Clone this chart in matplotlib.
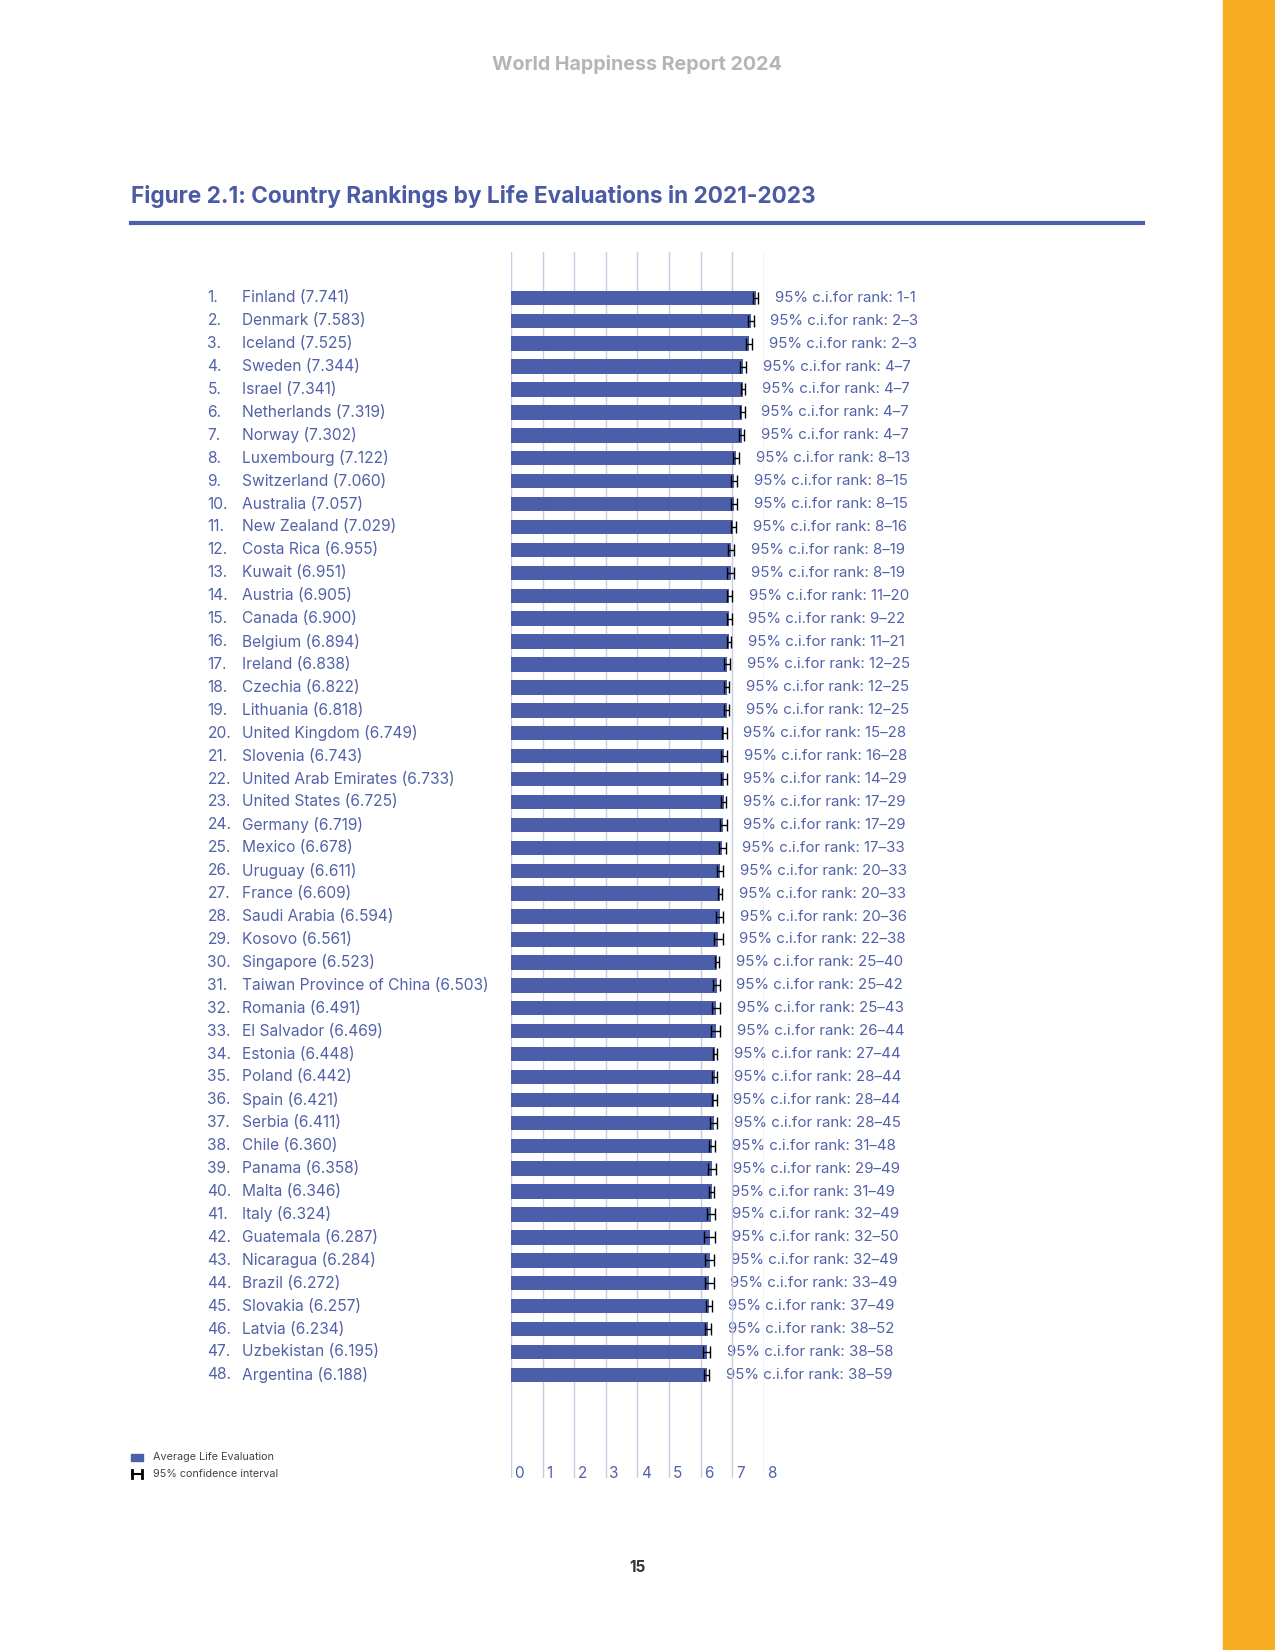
import numpy as np
import matplotlib.pyplot as plt

plt.rcParams['font.family'] = ['Inter', 'DejaVu Sans']

countries = ["Finland", "Denmark", "Iceland", "Sweden", "Israel", "Netherlands", "Norway",
             "Luxembourg", "Switzerland", "Australia", "New Zealand", "Costa Rica", "Kuwait",
             "Austria", "Canada", "Belgium", "Ireland", "Czechia", "Lithuania", "United Kingdom",
             "Slovenia", "United Arab Emirates", "United States", "Germany", "Mexico", "Uruguay",
             "France", "Saudi Arabia", "Kosovo", "Singapore", "Taiwan Province of China",
             "Romania", "El Salvador", "Estonia", "Poland", "Spain", "Serbia", "Chile", "Panama",
             "Malta", "Italy", "Guatemala", "Nicaragua", "Brazil", "Slovakia", "Latvia",
             "Uzbekistan", "Argentina"]
scores = [7.741, 7.583, 7.525, 7.344, 7.341, 7.319, 7.302, 7.122, 7.060, 7.057, 7.029, 6.955,
          6.951, 6.905, 6.900, 6.894, 6.838, 6.822, 6.818, 6.749, 6.743, 6.733, 6.725, 6.719,
          6.678, 6.611, 6.609, 6.594, 6.561, 6.523, 6.503, 6.491, 6.469, 6.448, 6.442, 6.421,
          6.411, 6.360, 6.358, 6.346, 6.324, 6.287, 6.284, 6.272, 6.257, 6.234, 6.195, 6.188]
# half width of the 95% confidence interval
ci_half = [0.075, 0.095, 0.095, 0.095, 0.055, 0.07, 0.08, 0.09, 0.09, 0.09, 0.085, 0.10,
           0.11, 0.08, 0.08, 0.06, 0.095, 0.075, 0.075, 0.07, 0.10, 0.09, 0.085, 0.10,
           0.11, 0.10, 0.06, 0.11, 0.13, 0.065, 0.10, 0.12, 0.14, 0.075, 0.08, 0.08,
           0.11, 0.095, 0.12, 0.075, 0.13, 0.17, 0.15, 0.14, 0.085, 0.085, 0.11, 0.08]
rank_lo = [1, 2, 2, 4, 4, 4, 4, 8, 8, 8, 8, 8, 8, 11, 9, 11, 12, 12, 12, 15, 16, 14, 17, 17,
           17, 20, 20, 20, 22, 25, 25, 25, 26, 27, 28, 28, 28, 31, 29, 31, 32, 32, 32, 33, 37,
           38, 38, 38]
rank_hi = [1, 3, 3, 7, 7, 7, 7, 13, 15, 15, 16, 19, 19, 20, 22, 21, 25, 25, 25, 28, 28, 29,
           29, 29, 33, 33, 33, 36, 38, 40, 42, 43, 44, 44, 44, 44, 45, 48, 49, 49, 49, 50, 49,
           49, 49, 52, 58, 59]
x_ticks = [0, 1, 2, 3, 4, 5, 6, 7, 8]

BLUE = '#4b5ea9'
TXT = '#5262a8'
GRID = '#c9cbe0'

fig = plt.figure(figsize=(12.75, 16.5), dpi=100)

# orange side band
fig.patches.append(plt.Rectangle((1223/1275, 0), 52/1275, 1, transform=fig.transFigure,
                                 color='#f6ad22', zorder=0))

fig.text(637/1275, 1 - 64/1650, "World Happiness Report 2024", ha='center', va='center',
         fontsize=14.2, fontweight='bold', color='#b5b5b5')
fig.text(131/1275, 1 - 197/1650, "Figure 2.1: Country Rankings by Life Evaluations in 2021-2023",
         ha='left', va='center', fontsize=16.3, fontweight='bold', color='#4a5aa5')
fig.add_artist(plt.Line2D([131/1275, 1143/1275], [1 - 223/1650, 1 - 223/1650],
                          transform=fig.transFigure, color=BLUE, lw=3))
fig.text(637/1275, 1 - 1568/1650, "15", ha='center', va='center', fontsize=11,
         fontweight='bold', color='#333333')

ax = fig.add_axes([511/1275, 1 - 1478/1650, 253/1275, 1226/1650])
ypos = np.arange(len(countries))

for t in x_ticks:
    ax.axvline(t, color=GRID, lw=1, zorder=2)
ax.barh(ypos, scores, height=0.63, color=BLUE, zorder=3)
ax.errorbar(scores, ypos, xerr=ci_half, fmt='none', ecolor='black', elinewidth=1,
            capsize=4.5, capthick=1, zorder=4)

ax.set_xlim(0, 8)
ax.set_ylim(51.5, -2.0)
ax.axis('off')

for i in range(len(countries)):
    ax.text(-9.6, ypos[i], f"{i + 1}.", ha='left', va='center', fontsize=11.2, color=TXT,
            clip_on=False)
    ax.text(-8.5, ypos[i], f"{countries[i]} ({scores[i]:.3f})", ha='left', va='center',
            fontsize=11.2, color=TXT, clip_on=False)
    dash = '-' if rank_lo[i] == rank_hi[i] else '\u2013'
    ax.annotate(f"95% c.i.for rank: {rank_lo[i]}{dash}{rank_hi[i]}",
                xy=(scores[i] + ci_half[i], ypos[i]), xytext=(12, 0),
                textcoords='offset points', ha='left', va='center', fontsize=10.8,
                color=TXT, zorder=1, annotation_clip=False)

for t in x_ticks:
    ax.annotate(str(t), xy=(t, 51.5), xytext=(2.5, -2), textcoords='offset points',
                ha='left', va='bottom', fontsize=11, color=TXT, annotation_clip=False)

# legend
fig.patches.append(plt.Rectangle((131/1275, 1 - 1461/1650), 12/1275, 7/1650,
                                 transform=fig.transFigure, color=BLUE))
fig.text(153/1275, 1 - 1457/1650, "Average Life Evaluation", ha='left', va='center',
         fontsize=7.8, color='#444444')
fig.add_artist(plt.Line2D([132/1275, 142/1275], [1 - 1474/1650] * 2,
                          transform=fig.transFigure, color='black', lw=1.5))
for xx in (132, 142):
    fig.add_artist(plt.Line2D([xx/1275] * 2, [1 - 1470/1650, 1 - 1478/1650],
                              transform=fig.transFigure, color='black', lw=2))
fig.text(153/1275, 1 - 1474/1650, "95% confidence interval", ha='left', va='center',
         fontsize=7.8, color='#444444')

fig.savefig('out.png', dpi=100)
